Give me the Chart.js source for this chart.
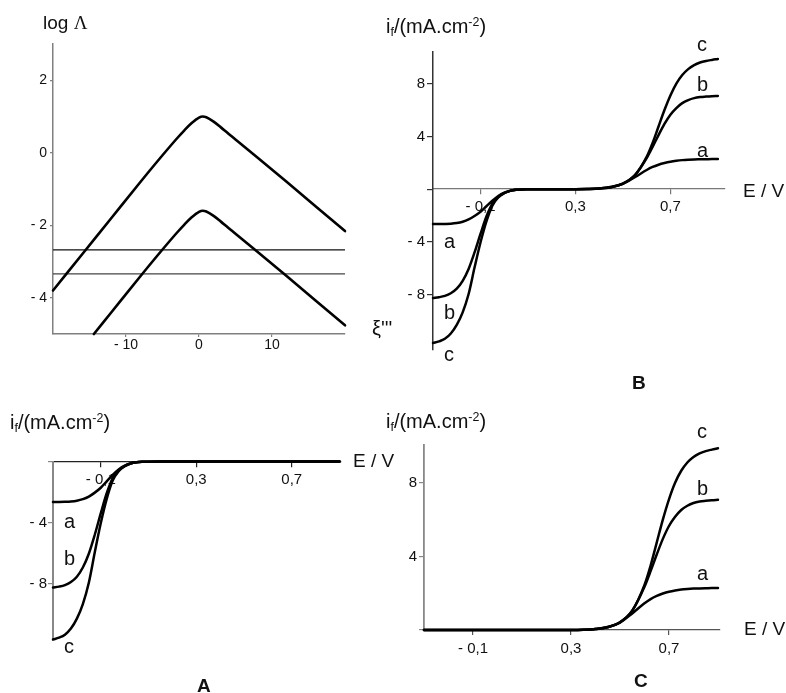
<!DOCTYPE html>
<html><head><meta charset="utf-8">
<script src="https://cdn.jsdelivr.net/npm/chart.js@4.4.1/dist/chart.umd.min.js"></script>
<style>
html,body{margin:0;padding:0;background:#fff;}
#wrap{position:relative;width:786px;height:693px;overflow:hidden;font-family:"Liberation Sans",Arial,sans-serif;color:#111;}
canvas{position:absolute;left:0;top:0;}
.p{position:absolute;line-height:1;white-space:nowrap;}
.p sub,.p sup{font-size:0.62em;line-height:0;}
.p sub{vertical-align:-0.25em;}
.p sup{vertical-align:0.55em;}
.bold{font-weight:bold;}
</style></head>
<body><div id="wrap">
<canvas id="c1" width="786" height="693"></canvas>
<canvas id="c2" width="786" height="693"></canvas>
<canvas id="c3" width="786" height="693"></canvas>
<canvas id="c4" width="786" height="693"></canvas>

<div class="p" style="left:43px;top:12.5px;font-size:19px">log <span style="font-family:'Liberation Serif',serif">Λ</span></div>
<div class="p" style="left:372px;top:318px;font-size:20px">ξ'''</div>

<div class="p" style="left:386px;top:16.4px;font-size:20px">i<sub>f</sub>/(mA.cm<sup>-2</sup>)</div>
<div class="p" style="left:743px;top:180.6px;font-size:19px">E / V</div>
<div class="p" style="left:697px;top:34.1px;font-size:20px">c</div>
<div class="p" style="left:697px;top:73.8px;font-size:20px">b</div>
<div class="p" style="left:697px;top:140.4px;font-size:20px">a</div>
<div class="p" style="left:444px;top:231.4px;font-size:20px">a</div>
<div class="p" style="left:444px;top:302.4px;font-size:20px">b</div>
<div class="p" style="left:444px;top:343.8px;font-size:20px">c</div>
<div class="p bold" style="left:632px;top:373.2px;font-size:19px">B</div>

<div class="p" style="left:10px;top:412.4px;font-size:20px">i<sub>f</sub>/(mA.cm<sup>-2</sup>)</div>
<div class="p" style="left:353px;top:450.6px;font-size:19px">E / V</div>
<div class="p" style="left:64px;top:511.4px;font-size:20px">a</div>
<div class="p" style="left:64px;top:548.1px;font-size:20px">b</div>
<div class="p" style="left:64px;top:635.8px;font-size:20px">c</div>
<div class="p bold" style="left:197px;top:675.6px;font-size:19px">A</div>

<div class="p" style="left:386px;top:411.4px;font-size:20px">i<sub>f</sub>/(mA.cm<sup>-2</sup>)</div>
<div class="p" style="left:744px;top:618.9px;font-size:19px">E / V</div>
<div class="p" style="left:697px;top:421.4px;font-size:20px">c</div>
<div class="p" style="left:697px;top:478.1px;font-size:20px">b</div>
<div class="p" style="left:697px;top:563.1px;font-size:20px">a</div>
<div class="p bold" style="left:634px;top:670.6px;font-size:19px">C</div>
</div>
<script>
// ---------- Panel 1 : log Λ versus ξ''' ----------
const P1_XI_UP  = [-20, -16, -12, -8, -5, -3, -2, -1, 0, 0.5, 1, 2, 3, 4, 6, 8, 12, 16, 20];
const P1_LOG_UP = [-3.8, -2.8, -1.8, -0.8, -0.07, 0.4, 0.62, 0.82, 0.97, 1.0, 0.98, 0.86, 0.7, 0.53, 0.2, -0.13, -0.8, -1.48, -2.16];
const P1_XI_LO  = [-14.4, -12, -8, -5, -3, -2, -1, 0, 0.5, 1, 2, 3, 4, 6, 8, 12, 16, 20];
const P1_LOG_LO = [-5.0, -4.4, -3.4, -2.67, -2.2, -1.98, -1.78, -1.63, -1.6, -1.62, -1.74, -1.9, -2.07, -2.4, -2.73, -3.4, -4.08, -4.76];
const P1_XI_LEVEL = [-20, 20];
const P1_LEVEL_1 = [-2.68, -2.68];
const P1_LEVEL_2 = [-3.34, -3.34];
const P1_X_TICKS = [-10, 0, 10];
const P1_Y_TICKS = [2, 0, -2, -4];

// ---------- Current curves (mA.cm-2) vs E (V) ----------
const E_CATH  = [-0.30, -0.275, -0.25, -0.225, -0.20, -0.175, -0.15, -0.125, -0.10, -0.075, -0.05, -0.025, 0.00, 0.025, 0.05, 0.075, 0.10, 0.15];
const IA_CATH = [-2.65, -2.65, -2.64, -2.62, -2.57, -2.47, -2.30, -2.04, -1.72, -1.30, -0.88, -0.52, -0.27, -0.12, -0.05, -0.02, -0.01, 0];
const IB_CATH = [-8.26, -8.20, -8.10, -7.90, -7.55, -6.95, -6.05, -4.80, -3.40, -2.08, -1.10, -0.58, -0.30, -0.13, -0.05, -0.02, -0.01, 0];
const IC_CATH = [-11.67, -11.55, -11.35, -10.95, -10.30, -9.35, -7.95, -5.95, -4.05, -2.45, -1.25, -0.63, -0.31, -0.13, -0.05, -0.02, -0.01, 0];

const E_ANOD  = [0.30, 0.35, 0.40, 0.45, 0.50, 0.55, 0.60, 0.625, 0.65, 0.675, 0.70, 0.725, 0.75, 0.775, 0.80, 0.825, 0.85, 0.875, 0.90];
const IA_ANOD = [0.00, 0.01, 0.05, 0.15, 0.40, 0.90, 1.45, 1.68, 1.85, 1.98, 2.08, 2.15, 2.20, 2.23, 2.25, 2.26, 2.27, 2.28, 2.28];
const IB_ANOD = [0.00, 0.01, 0.05, 0.16, 0.42, 1.05, 2.35, 3.20, 4.10, 4.95, 5.65, 6.15, 6.52, 6.75, 6.90, 6.98, 7.02, 7.05, 7.07];
const IC_ANOD = [0.00, 0.01, 0.05, 0.16, 0.42, 1.05, 2.45, 3.50, 4.75, 6.00, 7.10, 8.00, 8.65, 9.10, 9.40, 9.60, 9.72, 9.80, 9.87];

const A_E_TAIL = [0.9];  const A_I_TAIL = [0];
const C_E_HEAD = [-0.3]; const C_I_HEAD = [0];

const E_TICKS = [-0.1, 0.3, 0.7];
const B_Y_TICKS = [8, 4, 0, -4, -8];
const A_Y_TICKS = [0, -4, -8];
const C_Y_TICKS = [8, 4, 0];

// ---------- helpers ----------
const pts = (xs, ys) => xs.map((x, i) => ({x: x, y: ys[i]}));
const fmtInt = v => (v < 0 ? '- ' : '') + Math.abs(v);
const fmtIntNo0 = v => v === 0 ? '' : fmtInt(v);
const fmtDec = v => (v < 0 ? '- ' : '') + Math.abs(v).toFixed(1).replace('.', ',');

function curve(data, w) {
  return {data: data, borderColor: '#000', borderWidth: w || 2.5, pointRadius: 0, fill: false,
          cubicInterpolationMode: 'monotone', borderCapStyle: 'round', borderJoinStyle: 'round', clip: 3};
}
function straight(data, w, col) {
  return {data: data, borderColor: col, borderWidth: w, pointRadius: 0, fill: false, tension: 0, clip: 2};
}
function axis(o) {
  const a = {
    type: 'linear', min: o.min, max: o.max, position: o.position,
    afterBuildTicks: s => { s.ticks = o.ticks.map(v => ({value: v})); },
    grid: {display: true, drawOnChartArea: false, drawTicks: true, tickLength: o.tl, color: o.color, lineWidth: 1.2, tickWidth: 1.2},
    border: {display: true, color: o.color, width: o.bw},
    ticks: {autoSkip: false, maxRotation: 0, minRotation: 0, padding: o.pad, color: '#111',
            font: {family: 'Liberation Sans', size: o.fs}, callback: o.fmt}
  };
  if (o.size !== undefined) {
    a.afterFit = s => { if (s.isHorizontal()) s.height = o.size; else s.width = o.size; };
  }
  return a;
}
function mk(id, datasets, xo, yo, pad) {
  return new Chart(document.getElementById(id), {
    type: 'line',
    data: {datasets: datasets},
    options: {
      responsive: false, animation: false, events: [],
      layout: {autoPadding: false, padding: pad},
      plugins: {legend: {display: false}, tooltip: {enabled: false}},
      scales: {x: xo, y: yo}
    }
  });
}

// Panel 1
mk('c1', [
  curve(pts(P1_XI_UP, P1_LOG_UP), 2.6),
  curve(pts(P1_XI_LO, P1_LOG_LO), 2.6),
  straight(pts(P1_XI_LEVEL, P1_LEVEL_1), 1.4, '#111'),
  straight(pts(P1_XI_LEVEL, P1_LEVEL_2), 1.4, '#444')
],
  axis({min: -20, max: 20, position: 'bottom', ticks: P1_X_TICKS, tl: 3, pad: 0, color: '#808080', bw: 1.5, fs: 14, fmt: fmtInt, size: 30}),
  axis({min: -5, max: 3, position: 'left', ticks: P1_Y_TICKS, tl: 3, pad: 3, color: '#808080', bw: 1.5, fs: 14, fmt: fmtInt, size: 40}),
  {left: 13, top: 44, right: 441, bottom: 329});

// Panel B
mk('c2', [
  curve(pts(E_CATH, IA_CATH).concat(pts(E_ANOD, IA_ANOD))),
  curve(pts(E_CATH, IB_CATH).concat(pts(E_ANOD, IB_ANOD))),
  curve(pts(E_CATH, IC_CATH).concat(pts(E_ANOD, IC_ANOD)))
],
  axis({min: -0.3, max: 0.93, position: {y: 0}, ticks: E_TICKS, tl: 5, pad: 3.5, color: '#777', bw: 1.3, fs: 15, fmt: fmtDec}),
  axis({min: -12.2, max: 10.4, position: 'left', ticks: B_Y_TICKS, tl: 6, pad: 2, color: '#333', bw: 1.5, fs: 15, fmt: fmtIntNo0, size: 40}),
  {left: 393, top: 52, right: 61, bottom: 343});

// Panel A
mk('c3', [
  curve(pts(E_CATH, IA_CATH).concat(pts(A_E_TAIL, A_I_TAIL))),
  curve(pts(E_CATH, IB_CATH).concat(pts(A_E_TAIL, A_I_TAIL))),
  curve(pts(E_CATH, IC_CATH).concat(pts(A_E_TAIL, A_I_TAIL)))
],
  axis({min: -0.3, max: 0.905, position: {y: 0}, ticks: E_TICKS, tl: 5, pad: 4.5, color: '#222', bw: 1.2, fs: 15, fmt: fmtDec}),
  axis({min: -11.7, max: 0, position: 'left', ticks: A_Y_TICKS, tl: 5, pad: 1, color: '#888', bw: 2, fs: 15, fmt: fmtIntNo0, size: 40}),
  {left: 13, top: 461.5, right: 445.3, bottom: 53});

// Panel C
mk('c4', [
  curve(pts(C_E_HEAD, C_I_HEAD).concat(pts(E_ANOD, IA_ANOD))),
  curve(pts(C_E_HEAD, C_I_HEAD).concat(pts(E_ANOD, IB_ANOD))),
  curve(pts(C_E_HEAD, C_I_HEAD).concat(pts(E_ANOD, IC_ANOD)))
],
  axis({min: -0.3, max: 0.905, position: 'bottom', ticks: E_TICKS, tl: 5, pad: 4.5, color: '#555', bw: 1.3, fs: 15, fmt: fmtDec, size: 30}),
  axis({min: 0, max: 10.05, position: 'left', ticks: C_Y_TICKS, tl: 5, pad: 2, color: '#888', bw: 1.8, fs: 15, fmt: fmtIntNo0, size: 40}),
  {left: 384, top: 445, right: 66.8, bottom: 33});
</script>
</body></html>
